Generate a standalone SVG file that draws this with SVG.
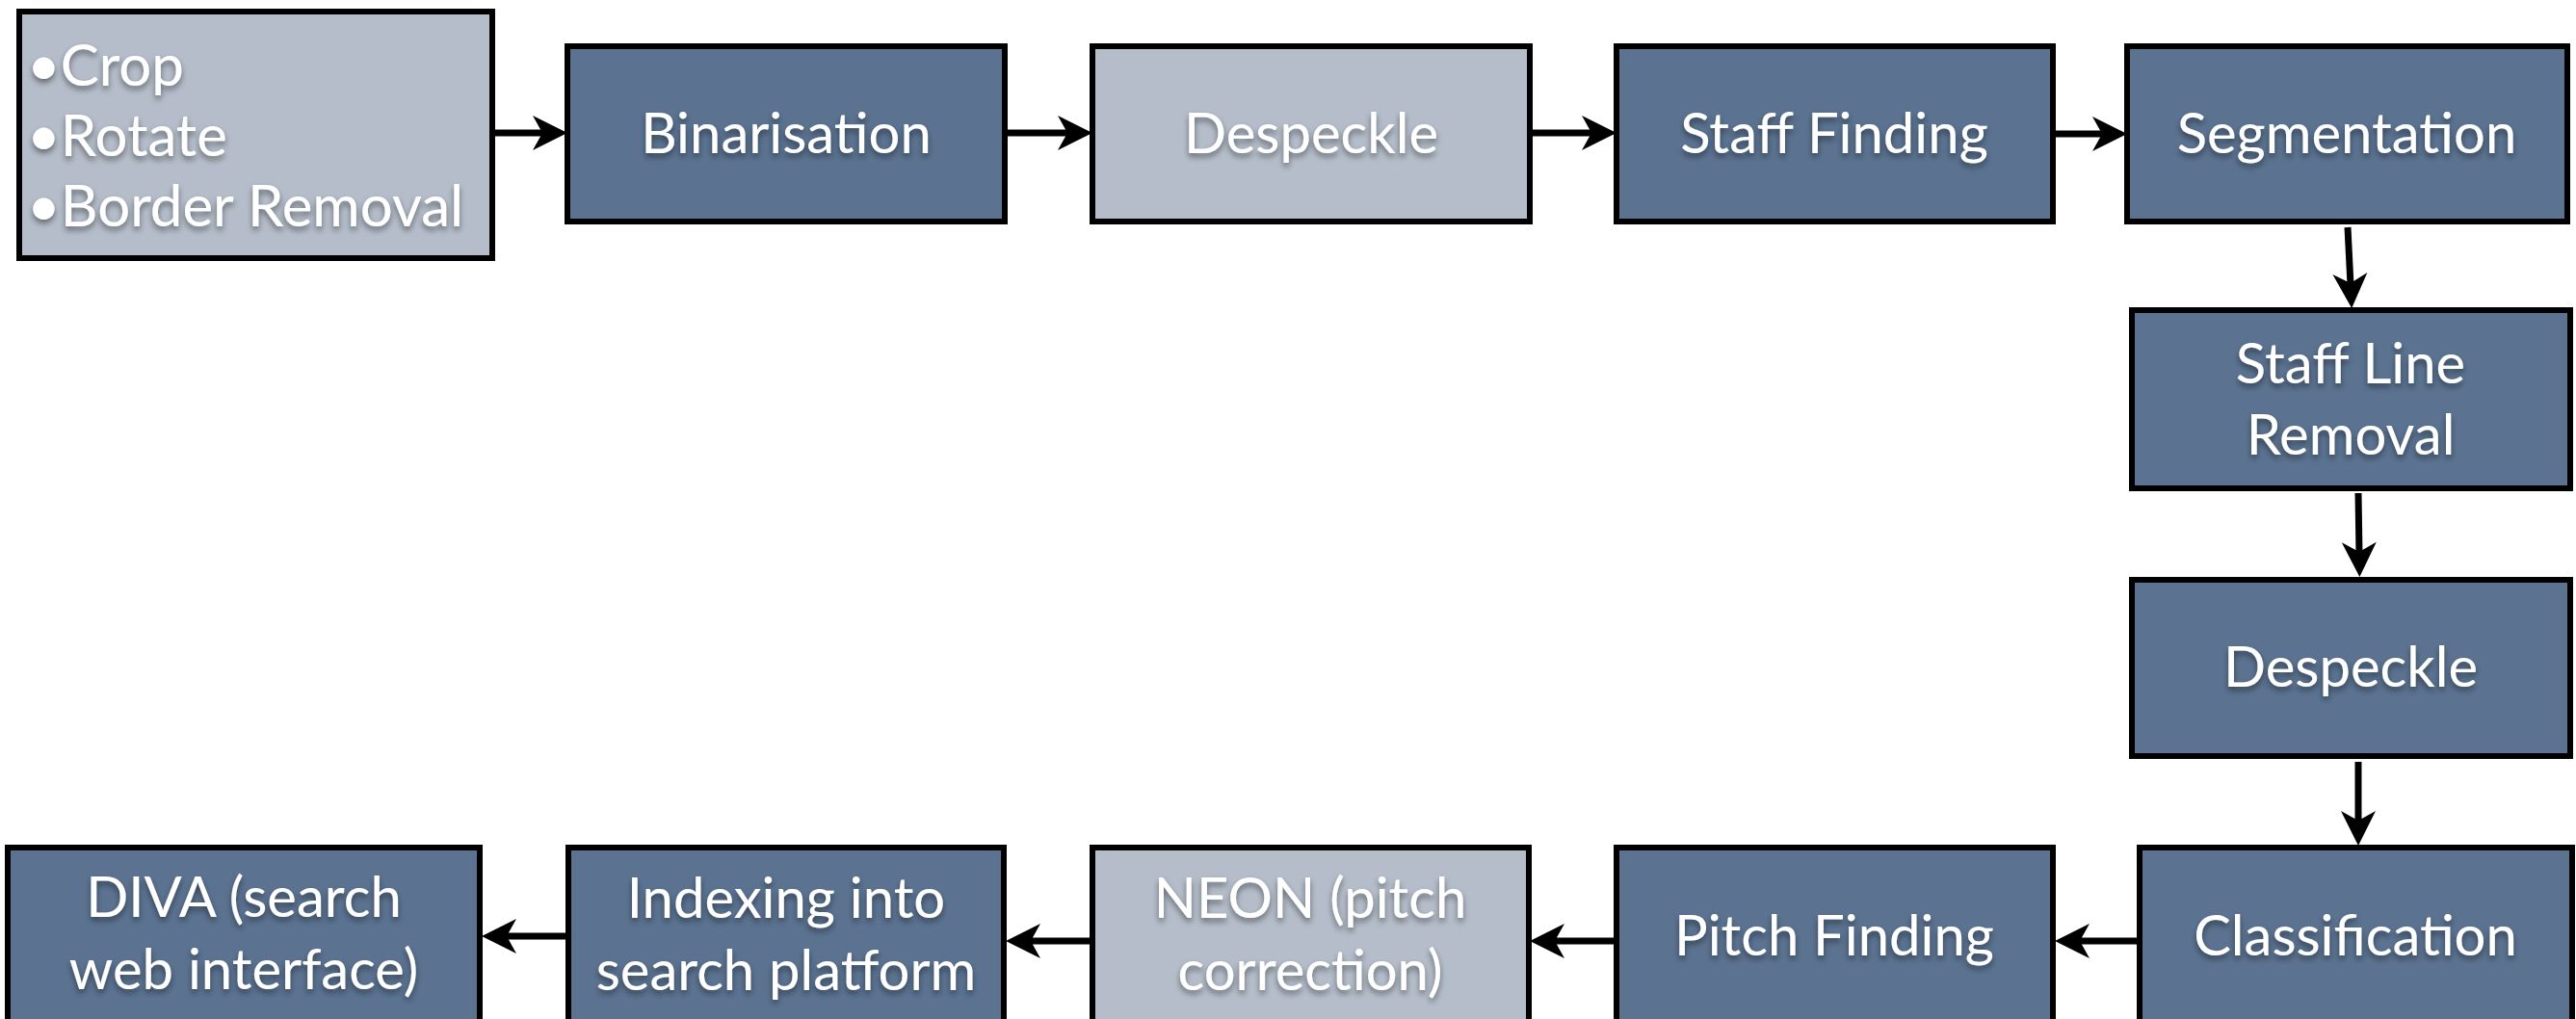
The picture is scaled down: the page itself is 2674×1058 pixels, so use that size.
<svg xmlns="http://www.w3.org/2000/svg" width="2674" height="1058" viewBox="0 0 2674 1058">
<style>
.box{stroke:#000;stroke-width:6}
.dark{fill:#5b7391}
.light{fill:#b4bdc9}
.t{font-family:Lato,"Liberation Sans",sans-serif;font-size:58px;fill:#fff;text-anchor:middle;filter:url(#sh)}
.tl{text-anchor:start;font-size:60px}
.c{stroke:#000;stroke-width:7;fill:none;marker-end:url(#ah)}
</style>
<defs>
<filter id="sh" x="-10%" y="-30%" width="120%" height="160%">
<feDropShadow dx="0" dy="4" stdDeviation="3" flood-color="#000" flood-opacity="0.45"/>
</filter>
<marker id="ah" markerUnits="userSpaceOnUse" markerWidth="38" markerHeight="38" refX="12" refY="18" orient="auto" overflow="visible">
<path d="M0,0 L36,18 L0,36 L10,18 Z" fill="#000"/>
</marker>
</defs>
<rect width="2674" height="1058" fill="#fff"/>
<g id="connectors">
<path class="c" d="M512,138 L565,138"/>
<path class="c" d="M1043,138 L1110,138"/>
<path class="c" d="M1588,138 L1654,138"/>
<path class="c" d="M2131,139 L2184,139"/>
<path class="c" d="M2437,236 L2440,296"/>
<path class="c" d="M2448,512 L2449,575"/>
<path class="c" d="M2448,791 L2448,854"/>
<path class="c" d="M2221,977 L2157,977"/>
<path class="c" d="M1678,977 L1612,977"/>
<path class="c" d="M1134,977 L1068,977"/>
<path class="c" d="M590,972 L524,972"/>
</g>
<g id="n-prep">
<rect class="box light" x="20" y="12" width="491" height="256"/>
<text class="t tl" x="28" y="89">•Crop</text>
<text class="t tl" x="28" y="162">•Rotate</text>
<text class="t tl" x="28" y="235">•Border Removal</text>
</g>
<g id="n-binarisation">
<rect class="box dark" x="589" y="48" width="454" height="182"/>
<text class="t" x="816" y="159">Binarisation</text>
</g>
<g id="n-despeckle1">
<rect class="box light" x="1134" y="48" width="454" height="182"/>
<text class="t" x="1361" y="159">Despeckle</text>
</g>
<g id="n-stafffinding">
<rect class="box dark" x="1678" y="48" width="453" height="182"/>
<text class="t" x="1904" y="159">Staff Finding</text>
</g>
<g id="n-segmentation">
<rect class="box dark" x="2208" y="48" width="457" height="182"/>
<text class="t" x="2436" y="159">Segmentation</text>
</g>
<g id="n-stafflineremoval">
<rect class="box dark" x="2213" y="322" width="455" height="185"/>
<text class="t" x="2440" y="398">Staff Line</text>
<text class="t" x="2440" y="472">Removal</text>
</g>
<g id="n-despeckle2">
<rect class="box dark" x="2213" y="602" width="455" height="183"/>
<text class="t" x="2440" y="713">Despeckle</text>
</g>
<g id="n-classification">
<rect class="box dark" x="2221" y="880" width="449" height="184"/>
<text class="t" x="2445" y="992">Classification</text>
</g>
<g id="n-pitchfinding">
<rect class="box dark" x="1678" y="880" width="453" height="184"/>
<text class="t" x="1904" y="992">Pitch Finding</text>
</g>
<g id="n-neon">
<rect class="box light" x="1134" y="880" width="453" height="184"/>
<text class="t" x="1360" y="953">NEON (pitch</text>
<text class="t" x="1360" y="1028">correction)</text>
</g>
<g id="n-indexing">
<rect class="box dark" x="590" y="880" width="452" height="184"/>
<text class="t" x="816" y="953">Indexing into</text>
<text class="t" x="816" y="1028">search platform</text>
</g>
<g id="n-diva">
<rect class="box dark" x="8" y="880" width="490" height="184"/>
<text class="t" x="253" y="952">DIVA (search</text>
<text class="t" x="253" y="1027">web interface)</text>
</g>
</svg>
